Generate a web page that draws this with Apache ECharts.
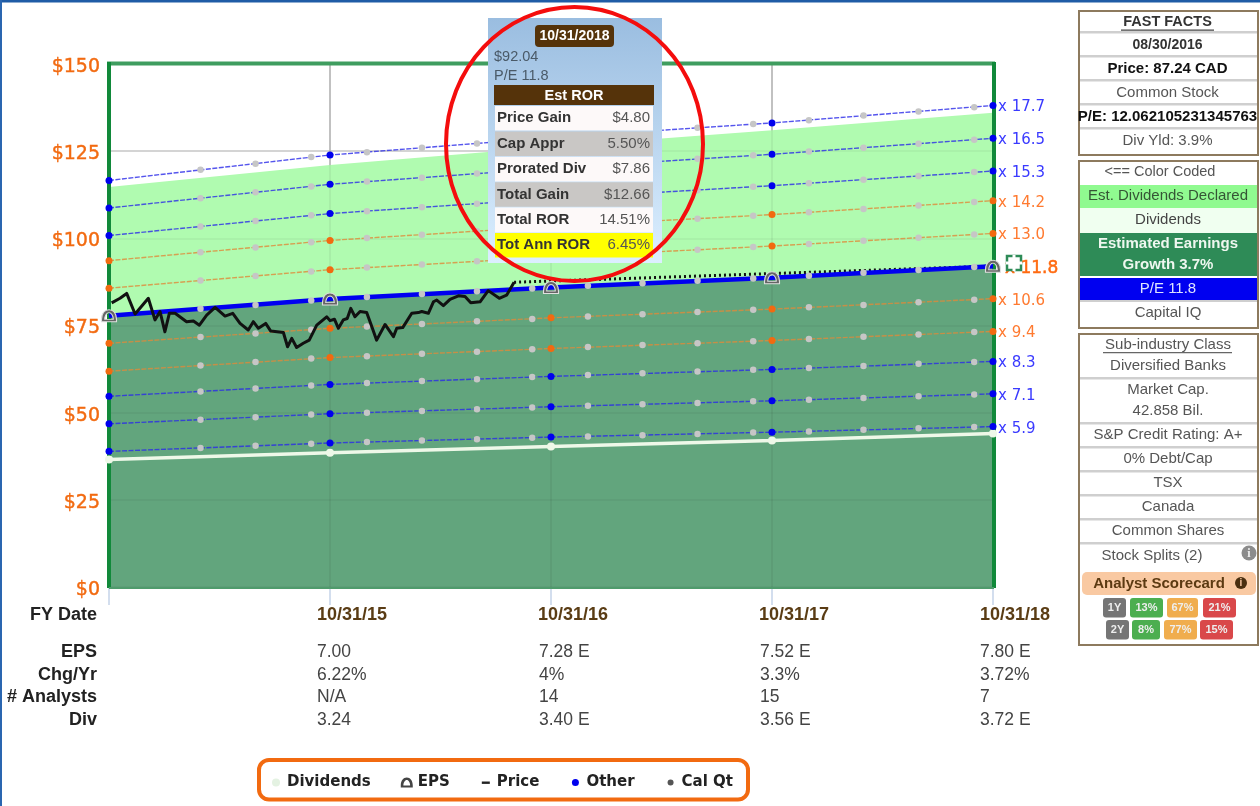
<!DOCTYPE html>
<html><head><meta charset="utf-8">
<style>html,body{margin:0;padding:0;background:#fff;overflow:hidden}#c{width:1260px;height:806px;filter:blur(0.7px)}</style>
<script src="https://cdn.jsdelivr.net/npm/echarts@6/dist/echarts.min.js"></script>
</head><body><div id="c"></div>
<script>
// ---- Data ----
const fyLabels = ['', '10/31/15', '10/31/16', '10/31/17', '10/31/18'];
const yearPos = [0, 1, 2, 3, 4];
// position of every point on the x axis, in years since 10/31/14
const pointPos = [0,0.414,0.663,0.915,1,1.167,1.416,1.665,1.915,2,2.167,2.414,2.663,2.915,3,3.167,3.414,3.663,3.915,4];
const pe59 = [38.9,39.9,40.5,41.1,41.3,41.6,42.0,42.4,42.8,43.0,43.2,43.5,43.9,44.3,44.4,44.6,45.1,45.5,45.9,46.0];
const pe71 = [46.8,48.0,48.7,49.5,49.7,50.0,50.5,51.0,51.5,51.7,52.0,52.4,52.8,53.3,53.4,53.7,54.2,54.7,55.2,55.4];
const pe83 = [54.7,56.1,56.9,57.8,58.1,58.5,59.1,59.6,60.2,60.4,60.8,61.3,61.8,62.3,62.4,62.8,63.4,64.0,64.5,64.7];
const pe94 = [61.9,63.5,64.5,65.5,65.8,66.2,66.9,67.5,68.2,68.4,68.8,69.4,69.9,70.5,70.7,71.1,71.8,72.4,73.1,73.3];
const pe106 = [69.9,71.7,72.7,73.8,74.2,74.7,75.4,76.2,76.9,77.2,77.6,78.2,78.9,79.5,79.7,80.2,80.9,81.7,82.4,82.7];
const pe118 = [77.8,79.8,80.9,82.2,82.6,83.2,84.0,84.8,85.6,85.9,86.4,87.1,87.8,88.5,88.7,89.3,90.1,90.9,91.8,92.0];
const pe130 = [85.7,87.9,89.2,90.5,91.0,91.6,92.5,93.4,94.3,94.6,95.2,95.9,96.7,97.5,97.8,98.4,99.3,100.2,101.1,101.4];
const pe142 = [93.6,96.0,97.4,98.9,99.4,100.1,101.0,102.0,103.0,103.4,103.9,104.8,105.6,106.5,106.8,107.5,108.4,109.4,110.4,110.8];
const pe153 = [100.8,103.4,105.0,106.6,107.1,107.8,108.9,109.9,111.0,111.4,112.0,112.9,113.8,114.8,115.1,115.8,116.8,117.9,119.0,119.3];
const pe165 = [108.7,111.5,113.2,114.9,115.5,116.3,117.4,118.6,119.7,120.1,120.8,121.8,122.8,123.8,124.1,124.9,126.0,127.1,128.3,128.7];
const pe177 = [116.6,119.7,121.4,123.3,123.9,124.7,126.0,127.2,128.4,128.9,129.6,130.6,131.7,132.8,133.1,133.9,135.2,136.4,137.6,138.1];
const estDivTop = [114.7,121.0,126.3,131.0,136.0];
const dividendLine = [36.6,38.5,40.3,42.0,44.0];
const priceT = [0.012,0.05,0.08,0.118,0.178,0.208,0.231,0.253,0.273,0.299,0.351,0.382,0.409,0.442,0.48,0.525,0.56,0.593,0.63,0.653,0.676,0.709,0.732,0.789,0.808,0.827,0.849,0.879,0.906,0.94,0.985,1,1.02,1.038,1.06,1.078,1.094,1.113,1.136,1.166,1.189,1.211,1.249,1.287,1.302,1.329,1.37,1.4,1.415,1.445,1.468,1.483,1.513,1.543,1.581,1.611,1.637,1.679,1.716,1.766,1.799,1.833];
const priceV = [81.5,82.8,84.2,78.3,82.8,76.6,79.0,73.2,78.5,78.5,76.1,76.3,75.1,78.0,80.2,77.7,78.5,75.6,73.7,76.1,74.2,75.6,73.4,73.0,68.9,71.3,68.7,69.9,70.8,75.1,77.5,76.4,76.8,74.2,76.6,77.0,79.9,77.5,79.0,78.7,74.7,70.8,75.3,71.8,74.2,74.4,78.5,78.7,79.0,78.5,81.8,82.3,80.7,82.5,83.5,83.3,81.5,81.8,85.0,82.8,83.7,87.4];
const priceTargetT = [1.833, 4];
const priceTargetV = [87.4, 92.04];

const rowNames = ['EPS', 'Chg/Yr', '# Analysts', 'Div'];
const epsRow = ['7.00', '7.28 E', '7.52 E', '7.80 E'];
const chgRow = ['6.22%', '4%', '3.3%', '3.72%'];
const analystRow = ['N/A', '14', '15', '7'];
const divRow = ['3.24', '3.40 E', '3.56 E', '3.72 E'];

const rorLabels = ['Price Gain', 'Cap Appr', 'Prorated Div', 'Total Gain', 'Total ROR', 'Tot Ann ROR'];
const rorValues = ['$4.80', '5.50%', '$7.86', '$12.66', '14.51%', '6.45%'];

const factsRows = ['FAST FACTS', '08/30/2016', 'Price: 87.24 CAD', 'Common Stock', 'P/E: 12.062105231345763', 'Div Yld: 3.9%'];
const classRows = ['Sub-industry Class', 'Diversified Banks', 'Market Cap.', '42.858 Bil.', 'S&P Credit Rating: A+', '0% Debt/Cap', 'TSX', 'Canada', 'Common Shares', 'Stock Splits (2)'];
const score1Y = ['1Y', '13%', '67%', '21%'];
const score2Y = ['2Y', '8%', '77%', '15%'];

// ---- Series helpers ----
const SANS = '"Liberation Sans", Arial, sans-serif';
const DEJA = '"DejaVu Sans", Verdana, sans-serif';
const BLUE = '#1c1cf0', ORANGE = '#f0701a';
const zip = (xs, ys) => xs.map((x, i) => [x, ys[i]]);
const isYear = x => Number.isInteger(x);
const bandList = [
  [pe59, 'x 5.9', BLUE], [pe71, 'x 7.1', BLUE], [pe83, 'x 8.3', BLUE],
  [pe94, 'x 9.4', ORANGE], [pe106, 'x 10.6', ORANGE],
  [pe130, 'x 13.0', ORANGE], [pe142, 'x 14.2', ORANGE],
  [pe153, 'x 15.3', BLUE], [pe165, 'x 16.5', BLUE], [pe177, 'x 17.7', BLUE]
];
const yearPts = arr => zip(pointPos, arr).filter(p => isYear(p[0]));
const qtrPts = arr => zip(pointPos, arr).filter(p => !isYear(p[0]));
const domePath = 'path://M1,9 C1,4 3.5,1 7,1 C10.5,1 13,4 13,9 L13,11 L1,11 Z M3.6,9 L10.4,9 C10.4,6 8.8,3.4 7,3.4 C5.2,3.4 3.6,6 3.6,9 Z';

const series = [];
series.push({ name: 'Est Dividends', type: 'line', z: 1, silent: true, symbol: 'none', clip: true,
  data: zip(yearPos, estDivTop), lineStyle: { width: 0 }, areaStyle: { color: '#b0fbb0', opacity: 1 } });
series.push({ name: 'Earnings', type: 'line', z: 1, silent: true, symbol: 'none', clip: true,
  data: yearPts(pe118), lineStyle: { width: 0 }, areaStyle: { color: '#62a57d', opacity: 1 } });
series.push({ name: 'Dividends', type: 'line', z: 4, clip: false, symbol: 'circle', symbolSize: 8,
  data: zip(yearPos, dividendLine), itemStyle: { color: '#eef8e8' }, lineStyle: { color: '#eef8e8', width: 3.5 } });
bandList.forEach(([arr, label, color]) => {
  series.push({ name: 'Other', type: 'line', z: 4, clip: false, symbol: 'circle', symbolSize: 7,
    data: yearPts(arr), itemStyle: { color: color === BLUE ? '#0000ee' : '#f26a10' },
    lineStyle: { color: color === BLUE ? '#2a2ae8' : '#e08a3a', width: 1.4, type: [5, 1.5], opacity: 0.8 },
    endLabel: { show: true, formatter: label, distance: 5, offset: [0, 2], color: color === BLUE ? '#3a3aff' : '#ff7a30', fontFamily: DEJA, fontSize: 15 } });
});
series.push({ name: 'Price', type: 'line', z: 4, clip: false, symbol: 'none',
  data: zip(priceTargetT, priceTargetV), lineStyle: { color: '#111', width: 3, type: [2, 3] }, itemStyle: { color: '#111' } });
series.push({ name: 'P/E 11.8', type: 'line', z: 4, clip: false, symbol: 'none',
  data: yearPts(pe118), lineStyle: { color: '#0000f0', width: 4.5 },
  endLabel: { show: true, formatter: 'x 11.8', distance: 12, offset: [0, 2], color: '#ff6a10', fontFamily: DEJA, fontSize: 17, textBorderColor: '#ff6a10', textBorderWidth: 0.5 } });
series.push({ name: 'Cal Qt', type: 'scatter', z: 5, symbol: 'circle', symbolSize: 6.5, clip: false,
  data: [pe59, pe71, pe83, pe94, pe106, pe118, pe130, pe142, pe153, pe165, pe177].flatMap(qtrPts),
  itemStyle: { color: '#c6c6c6', opacity: 1 } });
series.push({ name: 'Price', type: 'line', z: 6, clip: false, symbol: 'none',
  data: zip(priceT, priceV), lineStyle: { color: '#111', width: 3, join: 'round' }, itemStyle: { color: '#111' } });
series.push({ name: 'EPS', type: 'scatter', z: 7, clip: false, symbol: domePath, symbolSize: [15, 12],
  data: yearPts(pe118), itemStyle: { color: '#666', borderColor: '#e0e0e0', borderWidth: 1, opacity: 1 } });

// ---- Drawn panels and frame ----
const g = [];
const rect = (x, y, w, h, fill, extra) => g.push(Object.assign({ type: 'rect', silent: true, z: 30,
  shape: { x, y, width: w, height: h, r: (extra && extra.r) || 0 }, style: { fill, stroke: extra && extra.stroke, lineWidth: extra && extra.lw } }, extra && extra.z ? { z: extra.z } : {}));
const text = (x, y, s, o) => { o = o || {}; g.push({ type: 'text', silent: true, z: o.z || 31, x, y: y + 1,
  style: { text: s, fill: o.color || '#333', font: (o.weight || 'normal') + ' ' + (o.size || 15) + 'px ' + (o.family || SANS), textAlign: o.align || 'center', textVerticalAlign: 'middle' } }); };
const lineG = (x1, y1, x2, y2, color, w, z) => g.push({ type: 'line', silent: true, z: z || 3.5, shape: { x1, y1, x2, y2 }, style: { stroke: color, lineWidth: w } });

// window edge
rect(0, 0, 1260, 2.5, '#1f5ca6'); rect(0, 0, 2, 806, '#2a66b0');
// frame of the plot
lineG(107, 63.5, 995, 63.5, '#3f9d5f', 4);
lineG(109, 62, 109, 588, '#11893a', 4);
lineG(994, 62, 994, 588, '#11893a', 4);
lineG(109, 588, 994, 588, '#4f9b6c', 2);

// data table under the plot
const colX = [317, 539, 760, 980];
text(97, 614, 'FY Date', { weight: 'bold', size: 18, color: '#222', align: 'right' });
[[651, epsRow], [674, chgRow], [696, analystRow], [719, divRow]].forEach(([y, row], r) => {
  text(97, y, rowNames[r], { weight: 'bold', size: 18, color: '#222', align: 'right' });
  row.forEach((s, i) => text(colX[i], y, s, { size: 17.5, color: '#444', align: 'left' }));
});

// legend frame
rect(259, 760, 489, 39.5, '#fff', { r: 10, stroke: '#f26a10', lw: 4, z: 0.5 });

// growth-icon next to x 11.8
rect(1007, 256, 14, 14, '#fff', { stroke: '#2e8b57', lw: 2.5, z: 8 });
rect(1012.5, 255, 3, 16, '#fff', { z: 8 }); rect(1006, 261.5, 16, 3, '#fff', { z: 8 });

// tooltip box
g.push({ type: 'rect', silent: true, z: 20, shape: { x: 488, y: 18, width: 174, height: 245 },
  style: { fill: { type: 'linear', x: 0, y: 0, x2: 0, y2: 1, colorStops: [{ offset: 0, color: '#9abde0' }, { offset: 1, color: '#dcefff' }] } } });
const Z = 21;
rect(535, 25, 79, 22, '#55330a', { r: 4, z: Z });
text(574.5, 35.5, '10/31/2018', { weight: 'bold', size: 14, color: '#fff', z: Z + 1 });
text(494, 56, '$92.04', { size: 14.5, color: '#4a5a68', align: 'left', z: Z });
text(494, 75, 'P/E 11.8', { size: 14.5, color: '#4a5a68', align: 'left', z: Z });
rect(494, 85, 160, 20, '#55330a', { z: Z });
text(574, 94.5, 'Est ROR', { weight: 'bold', size: 14.5, color: '#fff', z: Z + 1 });
const rorBg = ['#fdf9f9', '#c9c7c5', '#fdf9f9', '#c9c7c5', '#fdf9f9', '#ffff00'];
rorLabels.forEach((s, i) => {
  const y = 106 + i * 25.4;
  rect(495, y, 158, 24.6, rorBg[i], { z: Z });
  text(497, y + 11.2, s, { weight: 'bold', size: 15, color: '#333', align: 'left', z: Z + 1 });
  text(650, y + 11.2, rorValues[i], { size: 15, color: '#555', align: 'right', z: Z + 1 });
});
// ring
g.push({ type: 'ellipse', silent: true, z: 25, shape: { cx: 574.5, cy: 144, rx: 128.5, ry: 137 }, style: { fill: 'none', stroke: '#f40d0d', lineWidth: 4 } });

// fast-facts panels
const frame = (y, h) => rect(1079, y, 179, h, '#fff', { stroke: '#8d7a5e', lw: 2 });
const sep = (y) => rect(1080, y - 1, 177, 2.4, '#cfcfcf');
frame(11, 144);
[32, 56, 80, 104, 128].forEach(sep);
text(1167.5, 21, factsRows[0], { weight: 'bold', size: 14.5, color: '#333' });
rect(1121, 29.5, 93, 1.2, '#444');
text(1167.5, 44, factsRows[1], { weight: 'bold', size: 14, color: '#333' });
text(1167.5, 68, factsRows[2], { weight: 'bold', size: 15, color: '#111' });
text(1167.5, 92, factsRows[3], { size: 15, color: '#555' });
text(1167.5, 116, factsRows[4], { weight: 'bold', size: 15, color: '#111' });
text(1167.5, 140, factsRows[5], { size: 15, color: '#555' });

frame(161, 167);
text(1160, 171, '<== Color Coded', { size: 14.5, color: '#555' });
rect(1080, 185, 177, 23, '#90fa90');
text(1168, 195, 'Est. Dividends Declared', { size: 15, color: '#355535' });
rect(1080, 208, 177, 25, '#f0fff0');
text(1168, 219, 'Dividends', { size: 15, color: '#444' });
rect(1080, 233, 177, 43, '#2e8b57');
text(1168, 243, 'Estimated Earnings', { weight: 'bold', size: 15, color: '#eef7ef' });
text(1168, 264, 'Growth 3.7%', { weight: 'bold', size: 15, color: '#eef7ef' });
rect(1080, 278, 177, 22, '#0000f0');
text(1168, 288, 'P/E 11.8', { size: 15, color: '#dfe4ff' });
rect(1080, 300, 177, 2, '#cfcfcf');
text(1168, 312, 'Capital IQ', { size: 15, color: '#555' });

frame(334, 311);
text(1168, 344, classRows[0], { size: 15, color: '#555' });
rect(1103, 352, 129, 1.2, '#666');
text(1168, 365, classRows[1], { size: 15, color: '#555' });
sep(378);
text(1168, 389, classRows[2], { size: 15, color: '#555' });
text(1168, 410, classRows[3], { size: 15, color: '#555' });
sep(423);
text(1168, 434, classRows[4], { size: 15, color: '#555' });
sep(447);
text(1168, 458, classRows[5], { size: 15, color: '#555' });
sep(471);
text(1168, 482, classRows[6], { size: 15, color: '#555' });
sep(495);
text(1168, 506, classRows[7], { size: 15, color: '#555' });
sep(519);
text(1168, 530, classRows[8], { size: 15, color: '#555' });
sep(543);
text(1152, 555, classRows[9], { size: 15, color: '#555' });
g.push({ type: 'circle', silent: true, z: 31, shape: { cx: 1249, cy: 553, r: 7.5 }, style: { fill: '#8c8c8c' } });
text(1249, 552.5, 'i', { weight: 'bold', size: 12, color: '#eee', z: 32, family: 'serif' });
rect(1082, 572, 174, 23, '#f9c9a2', { r: 5 });
text(1159, 582.5, 'Analyst Scorecard', { weight: 'bold', size: 15, color: '#5c3a12', z: 32 });
g.push({ type: 'circle', silent: true, z: 32, shape: { cx: 1241, cy: 583, r: 6 }, style: { fill: '#4a2f10' } });
text(1241, 582.5, 'i', { weight: 'bold', size: 10, color: '#f9c9a2', z: 33 });
const badgeColors = ['#757575', '#4cae50', '#f0ad4e', '#d9484a'];
const drawBadges = (row, xs, y) => row.forEach((s, i) => {
  rect(xs[i][0], y, xs[i][1] - xs[i][0], 19.5, badgeColors[i], { r: 3 });
  text((xs[i][0] + xs[i][1]) / 2, y + 9, s, { weight: 'bold', size: 11, color: '#eee', z: 32 });
});
drawBadges(score1Y, [[1103, 1126], [1130, 1163], [1167, 1198], [1203, 1236]], 598);
drawBadges(score2Y, [[1106, 1129], [1132, 1160], [1164, 1197], [1200, 1233]], 620);

const M = (s) => 'path://M0,0L0,0M12,12L12,12' + s;
const option = {
  animation: false, backgroundColor: '#fff',
  grid: { left: 109, top: 64, width: 884, height: 523, show: false },
  xAxis: [
    { type: 'value', min: 0, max: 4, interval: 1, z: 3, position: 'bottom',
      axisLine: { show: false }, axisTick: { show: true, length: 18, lineStyle: { color: '#d3deee', width: 2 } },
      splitLine: { show: true, lineStyle: { color: 'rgba(0,0,0,0.05)', width: 2 } },
      axisLabel: { margin: 19, color: '#5a3c14', fontFamily: SANS, fontWeight: 'bold', fontSize: 18, align: 'center', padding: [0, 0, 0, 44],
        showMinLabel: true, showMaxLabel: true, hideOverlap: false, formatter: v => fyLabels[v] } },
    { type: 'value', min: 0, max: 4, interval: 1, z: 0, position: 'top',
      axisLine: { show: false }, axisTick: { show: false }, axisLabel: { show: false },
      splitLine: { show: true, lineStyle: { color: '#cccccc', width: 2 } } }
  ],
  yAxis: [
    { type: 'value', min: 0, max: 150, interval: 25, z: 3, position: 'left',
      axisLine: { show: false }, axisTick: { show: false },
      splitLine: { show: true, lineStyle: { color: 'rgba(0,0,0,0.04)', width: 2 } },
      axisLabel: { margin: 9, color: '#f26a10', fontFamily: DEJA, fontSize: 19, verticalAlign: 'top', lineHeight: 6, textBorderColor: '#f26a10', textBorderWidth: 0.4, formatter: v => '$' + v } },
    { type: 'value', min: 0, max: 150, interval: 25, z: 0, position: 'right',
      axisLine: { show: false }, axisTick: { show: false }, axisLabel: { show: false },
      splitLine: { show: true, lineStyle: { color: '#dddddd', width: 2 } } }
  ],
  legend: { left: 265, top: 770, itemWidth: 12, itemHeight: 12, itemGap: 30, selectedMode: false, z: 10,
    textStyle: { fontFamily: DEJA, fontWeight: 'bold', fontSize: 15, color: '#222' },
    data: [
      { name: 'Dividends', icon: M('M2,6a4,4 0 1,0 8,0a4,4 0 1,0 -8,0z'), itemStyle: { color: '#e4f2e2' } },
      { name: 'EPS', icon: domePath, itemStyle: { color: '#444', borderWidth: 0 } },
      { name: 'Price', icon: M('M2,5h8v2.4h-8z'), itemStyle: { color: '#222' } },
      { name: 'Other', icon: M('M2.5,6a3.5,3.5 0 1,0 7,0a3.5,3.5 0 1,0 -7,0z'), itemStyle: { color: '#0000ee' } },
      { name: 'Cal Qt', icon: M('M3,6a3,3 0 1,0 6,0a3,3 0 1,0 -6,0z'), itemStyle: { color: '#555' } }
    ] },
  series,
  graphic: { elements: g }
};
const chart = echarts.init(document.getElementById('c'));
chart.setOption(option);
</script></body></html>
